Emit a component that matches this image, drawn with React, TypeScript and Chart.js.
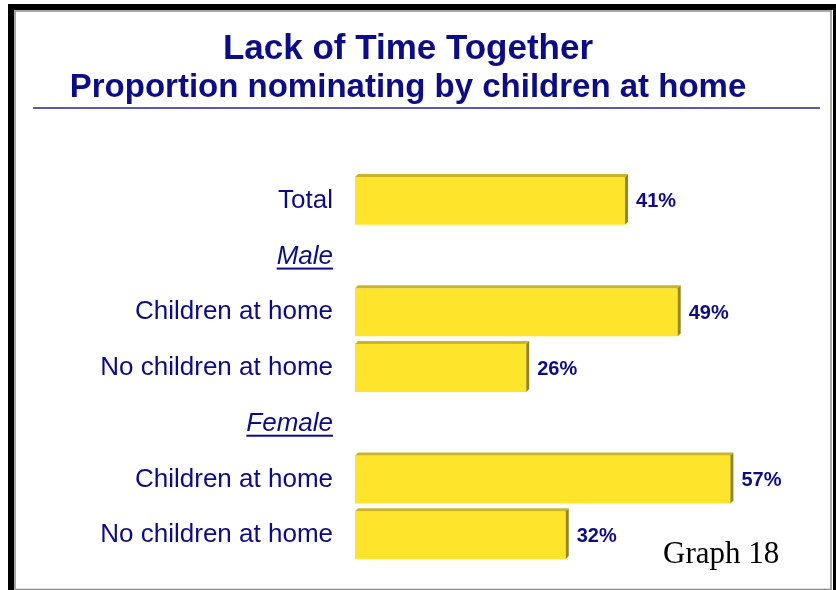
import React, { useEffect, useRef } from 'react';
import { Chart, registerables } from 'chart.js';

Chart.register(...registerables);

const categories = [
  'Total',
  'Male',
  'Children at home',
  'No children at home',
  'Female',
  'Children at home',
  'No children at home',
];
const values: (number | null)[] = [41, null, 49, 26, null, 57, 32];
const headerIndices = [1, 4];
const titleText = 'Lack of Time Together';
const subtitleText = 'Proportion nominating by children at home';
const footnote = 'Graph 18';
const valueMax = 70;

const NAVY = '#0c0c86';
const SANS = '"Liberation Sans", Arial, Helvetica, sans-serif';
const SERIF = '"Liberation Serif", "Times New Roman", serif';
const FACE = '#FEE52B';
const TOP = '#C9B42C';
const SIDE = '#968620';

const decorPlugin = {
  id: 'decor',
  beforeDraw(chart: any) {
    const ctx = chart.ctx;
    ctx.save();
    ctx.fillStyle = '#000';
    ctx.fillRect(8, 4, 828, 6);
    ctx.fillRect(8, 4, 6, 586);
    ctx.fillRect(833, 4, 3, 586);
    ctx.strokeStyle = '#8a8a8a';
    ctx.lineWidth = 1.5;
    ctx.beginPath();
    ctx.moveTo(15, 589.5);
    ctx.lineTo(15, 11);
    ctx.lineTo(831, 11);
    ctx.lineTo(831, 589.5);
    ctx.lineTo(15, 589.5);
    ctx.stroke();
    ctx.fillStyle = '#5a5ab2';
    ctx.fillRect(33, 107, 787, 2);
    ctx.restore();
  },
  afterDatasetsDraw(chart: any) {
    const ctx = chart.ctx;
    const meta = chart.getDatasetMeta(0);
    ctx.save();
    meta.data.forEach((bar: any, i: number) => {
      const v = values[i];
      if (v === null || v === undefined) return;
      const { x, y, base, height } = bar.getProps(['x', 'y', 'base', 'height'], true);
      const top = y - height / 2;
      const bottom = y + height / 2;
      const d = 3;
      ctx.fillStyle = TOP;
      ctx.beginPath();
      ctx.moveTo(base, top);
      ctx.lineTo(base + d, top - d);
      ctx.lineTo(x + d, top - d);
      ctx.lineTo(x, top);
      ctx.closePath();
      ctx.fill();
      ctx.fillStyle = SIDE;
      ctx.beginPath();
      ctx.moveTo(x, top);
      ctx.lineTo(x + d, top - d);
      ctx.lineTo(x + d, bottom - d);
      ctx.lineTo(x, bottom);
      ctx.closePath();
      ctx.fill();
      ctx.fillStyle = NAVY;
      ctx.font = `bold 20px ${SANS}`;
      ctx.textAlign = 'left';
      ctx.textBaseline = 'middle';
      ctx.fillText(`${v}%`, x + 11, y + 1);
    });
    ctx.restore();
  },
  afterDraw(chart: any) {
    const ctx = chart.ctx;
    const yScale = chart.scales.y;
    ctx.save();
    ctx.font = `italic 26px ${SANS}`;
    const right = chart.chartArea.left - yScale.options.ticks.padding;
    headerIndices.forEach((idx) => {
      const w = ctx.measureText(categories[idx]).width;
      const yy = yScale.getPixelForTick(idx) + 11;
      ctx.fillStyle = NAVY;
      ctx.fillRect(right - w, yy, w, 2);
    });
    ctx.fillStyle = '#000';
    ctx.font = `31px ${SERIF}`;
    ctx.textAlign = 'left';
    ctx.textBaseline = 'alphabetic';
    ctx.fillText(footnote, 663, 563);
    ctx.restore();
  },
};

export default function App() {
  const ref = useRef<HTMLCanvasElement | null>(null);

  useEffect(() => {
    if (!ref.current) return;
    const chart = new Chart(ref.current, {
      type: 'bar',
      data: {
        labels: categories,
        datasets: [
          {
            data: values as any,
            backgroundColor: FACE,
            borderWidth: 0,
            categoryPercentage: 1,
            barPercentage: 0.86,
          },
        ],
      },
      options: {
        indexAxis: 'y',
        responsive: false,
        animation: false,
        devicePixelRatio: 1,
        layout: { padding: { left: 0, right: 20, top: 0, bottom: 27 } },
        plugins: {
          legend: { display: false },
          tooltip: { enabled: false },
          title: {
            display: true,
            text: titleText,
            color: NAVY,
            font: { family: SANS, size: 35, weight: 'bold', lineHeight: 40 / 35 },
            padding: { top: 29.5, bottom: 0 },
          },
          subtitle: {
            display: true,
            text: subtitleText,
            color: NAVY,
            font: { family: SANS, size: 33, weight: 'bold', lineHeight: 37 / 33 },
            padding: { top: 0, bottom: 66.5 },
          },
        },
        scales: {
          x: { display: false, min: 0, max: valueMax },
          y: {
            grid: { display: false, drawTicks: false },
            border: { display: false },
            ticks: {
              autoSkip: false,
              padding: 22,
              color: NAVY,
              font: (c: any) => ({
                family: SANS,
                size: 26,
                style: headerIndices.includes(c.index) ? 'italic' : 'normal',
              }),
            },
            afterFit: (s: any) => {
              s.width = 355;
              s.paddingTop = 0;
              s.paddingBottom = 0;
            },
          },
        },
      },
      plugins: [decorPlugin],
    });
    return () => chart.destroy();
  }, []);

  return (
    <div style={{ position: 'absolute', left: 0, top: 0, width: 836, height: 590, background: '#fff' }}>
      <canvas ref={ref} width={836} height={590} style={{ width: 836, height: 590, display: 'block' }} />
    </div>
  );
}
